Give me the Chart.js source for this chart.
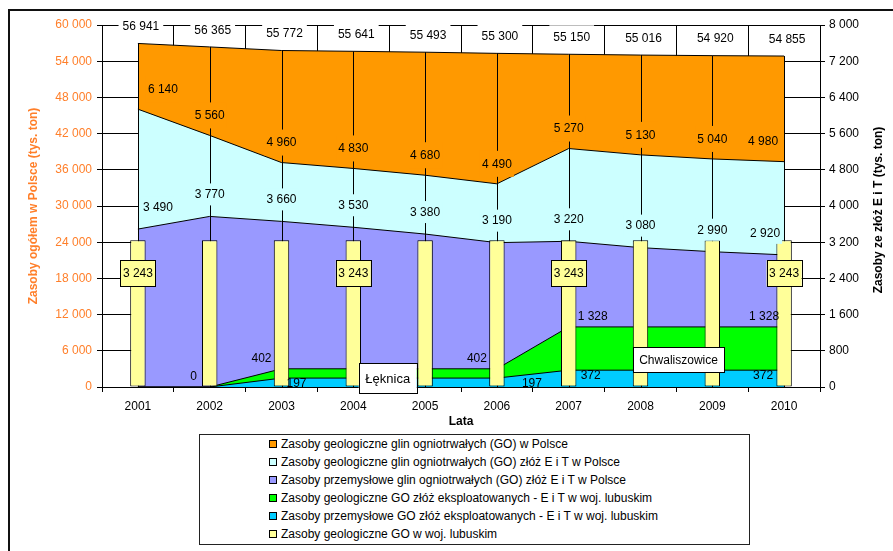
<!DOCTYPE html>
<html><head><meta charset="utf-8">
<script src="https://cdn.jsdelivr.net/npm/chart.js@4.4.1/dist/chart.umd.min.js"></script>
<style>
html,body{margin:0;padding:0;background:#fff;}
#wrap{position:relative;width:893px;height:551px;overflow:hidden;}
#c{position:absolute;left:0;top:0;}
#legend{position:absolute;left:199px;top:434px;width:551px;height:111px;box-sizing:border-box;border:1px solid #222;background:#fff;
  font-family:"Liberation Sans",Arial,sans-serif;font-size:12px;color:#000;padding-left:69px;}
#legend div{height:18px;line-height:18px;white-space:nowrap;}
#legend span.m{display:inline-block;width:6px;height:6px;border:1px solid #000;margin-right:4px;vertical-align:0px;}
</style></head>
<body><div id="wrap"><canvas id="c" width="893" height="551"></canvas><div id="legend"></div></div>
<script>
const years = ['2001','2002','2003','2004','2005','2006','2007','2008','2009','2010'];
const geoPolska = [56941, 56365, 55772, 55641, 55493, 55300, 55150, 55016, 54920, 54855];
const geoEiT = [6140, 5560, 4960, 4830, 4680, 4490, 5270, 5130, 5040, 4980];
const przemEiT = [3490, 3770, 3660, 3530, 3380, 3190, 3220, 3080, 2990, 2920];
const geoEksplLub = [0, 0, 402, 402, 402, 402, 1328, 1328, 1328, 1328];
const przemEksplLub = [0, 0, 197, 197, 197, 197, 372, 372, 372, 372];
const geoLub = [3243, 3243, 3243, 3243, 3243, 3243, 3243, 3243, 3243, 3243];
const leftTicks = [0, 6000, 12000, 18000, 24000, 30000, 36000, 42000, 48000, 54000, 60000];
const rightTicks = [0, 800, 1600, 2400, 3200, 4000, 4800, 5600, 6400, 7200, 8000];
const seriesNames = [
  'Zasoby geologiczne glin ogniotrwałych (GO) w Polsce',
  'Zasoby geologiczne glin ogniotrwałych (GO) złóż E i T w Polsce',
  'Zasoby przemysłowe glin ogniotrwałych (GO) złóż E i T w Polsce',
  'Zasoby geologiczne GO złóż eksploatowanych -  E i T w woj. lubuskim',
  'Zasoby przemysłowe GO złóż eksploatowanych -  E i T w woj. lubuskim',
  'Zasoby geologiczne GO w woj. lubuskim'
];
const leftTitle = 'Zasoby ogółem w Polsce (tys. ton)';
const rightTitle = 'Zasoby ze złóż E i T (tys. ton)';
const xTitle = 'Lata';
const placeNames = ['Łęknica', 'Chwaliszowice'];

const FONT = '"Liberation Sans", Arial, sans-serif';
const ORANGE_TXT = '#FF7F2A';
const fmt = v => String(v).replace(/\B(?=(\d{3})+(?!\d))/g, ' ');

// label styling per dataset (positions relative to the data point)
const labelStyle = [
  {show:[0,1,2,3,4,5,6,7,8,9], bg:'#FFFFFF', dy:-17, dx:i=>3, padX:4, padY:6},
  {show:[0,1,2,3,4,5,6,7,8,9], bg:'#FF9900', dy:-20, dx:i=>i===0?25:(i===9?-21:0), padX:2, padY:7},
  {show:[0,1,2,3,4,5,6,7,8,9], bg:'#CCFFFF', dy:-22, dx:i=>i===0?20:(i===9?-19:0), padX:2, padY:5},
  {show:[1,2,5,6,9], bg:null, dy:-11, dx:i=>i===6?24:(i===1?-16:-20), padX:2, padY:2},
  {show:[2,5,6,9], bg:null, dy:5, dx:i=>i===9?-21:(i===5?35:(i===6?22:15)), padX:2, padY:2},
  {show:[0,3,6,9], bg:'#FFFF99', border:'#000', dy:33, dx:i=>0, padX:2.5, padY:7}
];
const notes = [
  {text:placeNames[0], xi:3.48, yv:199, w:58, h:30, size:13},
  {text:placeNames[1], xi:7.53, yv:608, w:91, h:25, size:12}
];

function drawLabel(ctx, text, x, y, o, size) {
  ctx.font = size + 'px ' + FONT;
  const w = ctx.measureText(text).width;
  const bw = w + 2*o.padX, bh = size + 2*o.padY;
  if (o.bg) { ctx.fillStyle = o.bg; ctx.fillRect(x-bw/2, y-bh/2, bw, bh); }
  if (o.border) { ctx.strokeStyle = o.border; ctx.lineWidth = 1; ctx.strokeRect(Math.round(x-bw/2)+0.5, Math.round(y-bh/2)+0.5, Math.round(bw), Math.round(bh)); }
  ctx.fillStyle = '#000'; ctx.textAlign = 'center'; ctx.textBaseline = 'middle';
  ctx.fillText(text, x, y+0.5);
}

const extras = {
  id:'extras',
  beforeDraw(chart){
    const ctx = chart.ctx; ctx.save();
    ctx.fillStyle = '#fff'; ctx.fillRect(0,0,chart.width,chart.height);
    ctx.strokeStyle = '#111'; ctx.lineWidth = 2; ctx.strokeRect(9, 10, 1000, 1000);
    ctx.restore();
  },
  beforeDatasetDraw(chart, args){
    if (args.index !== 5) return;
    const ctx = chart.ctx, ca = chart.chartArea;
    const meta = chart.getDatasetMeta(0);
    ctx.save(); ctx.strokeStyle = '#000'; ctx.lineWidth = 1;
    meta.data.forEach(pt => {
      const x = Math.round(pt.x) + 0.5;
      ctx.beginPath(); ctx.moveTo(x, pt.y); ctx.lineTo(x, ca.bottom); ctx.stroke();
    });
    ctx.restore();
  },
  afterDatasetsDraw(chart){
    const ctx = chart.ctx, ca = chart.chartArea;
    ctx.save();
    ctx.strokeStyle = '#000'; ctx.lineWidth = 1;
    ctx.beginPath(); ctx.moveTo(ca.left, Math.round(ca.bottom)+0.5); ctx.lineTo(ca.right, Math.round(ca.bottom)+0.5); ctx.stroke();
    labelStyle.forEach((o, di) => {
      const meta = chart.getDatasetMeta(di);
      const data = chart.data.datasets[di].data;
      o.show.forEach(i => {
        const el = meta.data[i];
        drawLabel(ctx, fmt(data[i]), el.x + o.dx(i), el.y + o.dy, o, 12);
      });
    });
    const xs = chart.scales.x, ys = chart.scales.y1;
    notes.forEach(n => {
      const cx = xs.getPixelForValue(n.xi), cy = ys.getPixelForValue(n.yv);
      ctx.fillStyle = '#fff'; ctx.fillRect(cx-n.w/2, cy-n.h/2, n.w, n.h);
      ctx.strokeStyle = '#000'; ctx.lineWidth = 1;
      ctx.strokeRect(Math.round(cx-n.w/2)+0.5, Math.round(cy-n.h/2)+0.5, n.w, n.h);
      ctx.fillStyle = '#000'; ctx.font = n.size + 'px ' + FONT; ctx.textAlign = 'center'; ctx.textBaseline = 'middle';
      ctx.fillText(n.text, cx, cy+1);
    });
    ctx.restore();
  },
  afterDraw(chart){
    const ctx = chart.ctx, ca = chart.chartArea;
    const cy = (ca.top + ca.bottom)/2;
    ctx.save();
    ctx.font = 'bold 12px ' + FONT; ctx.textAlign = 'center'; ctx.textBaseline = 'middle';
    ctx.fillStyle = ORANGE_TXT;
    ctx.translate(34, cy); ctx.rotate(-Math.PI/2); ctx.fillText(leftTitle, 0, 0);
    ctx.restore(); ctx.save();
    ctx.font = 'bold 12px ' + FONT; ctx.textAlign = 'center'; ctx.textBaseline = 'middle';
    ctx.fillStyle = '#000';
    ctx.translate(879, cy + 4); ctx.rotate(-Math.PI/2); ctx.fillText(rightTitle, 0, 0);
    ctx.restore();
  }
};

const lineDs = (label, data, color, axis, order) => ({
  type:'line', label, data, yAxisID:axis, order,
  backgroundColor:color, borderColor:'#000', borderWidth:1,
  fill:'origin', pointRadius:0, pointHoverRadius:0, tension:0
});

const chart = new Chart(document.getElementById('c'), {
  type:'bar',
  data:{
    labels: years,
    datasets:[
      lineDs(seriesNames[0], geoPolska, '#FF9900', 'y', 6),
      lineDs(seriesNames[1], geoEiT, '#CCFFFF', 'y1', 5),
      lineDs(seriesNames[2], przemEiT, '#9999FF', 'y1', 4),
      lineDs(seriesNames[3], geoEksplLub, '#00FF00', 'y1', 3),
      lineDs(seriesNames[4], przemEksplLub, '#00CCFF', 'y1', 2),
      {type:'bar', label:seriesNames[5], data:geoLub, yAxisID:'y1', order:1,
       backgroundColor:'#FFFF99', borderColor:'#000', borderWidth:1, borderSkipped:false,
       barPercentage:0.215, categoryPercentage:1}
    ]
  },
  options:{
    responsive:false, animation:false, devicePixelRatio:1,
    layout:{padding:{left:0, right:0, top:25, bottom:122}},
    plugins:{legend:{display:false}, tooltip:{enabled:false}},
    scales:{
      x:{
        offset:true,
        grid:{offset:true, color:'#000', lineWidth:1, tickLength:5, drawOnChartArea:true},
        border:{display:true, color:'#000'},
        ticks:{font:{family:FONT, size:12}, color:'#000', padding:7},
        title:{display:true, text:xTitle, font:{family:FONT, size:12, weight:'bold'}, color:'#000', padding:{top:0,bottom:0}},
        afterFit(s){ s.height = 42; }
      },
      y:{
        position:'left', min:0, max:60000,
        afterBuildTicks(s){ s.ticks = leftTicks.map(v => ({value:v})); },
        grid:{color:'#000', lineWidth:1, tickLength:5},
        border:{display:true, color:'#000'},
        ticks:{font:{family:FONT, size:12}, color:ORANGE_TXT, padding:5, callback:v=>fmt(v)},
        afterFit(s){ s.width = 102; }
      },
      y1:{
        position:'right', min:0, max:8000,
        afterBuildTicks(s){ s.ticks = rightTicks.map(v => ({value:v})); },
        grid:{drawOnChartArea:false, color:'#000', lineWidth:1, tickLength:5},
        border:{display:true, color:'#000'},
        ticks:{font:{family:FONT, size:12}, color:'#000', padding:4, callback:v=>fmt(v)},
        afterFit(s){ s.width = 73; }
      }
    }
  },
  plugins:[extras]
});

const lg = document.getElementById('legend');
chart.data.datasets.forEach(ds => {
  const row = document.createElement('div');
  const m = document.createElement('span'); m.className = 'm'; m.style.background = ds.backgroundColor;
  row.appendChild(m); row.appendChild(document.createTextNode(ds.label));
  lg.appendChild(row);
});
</script></body></html>
